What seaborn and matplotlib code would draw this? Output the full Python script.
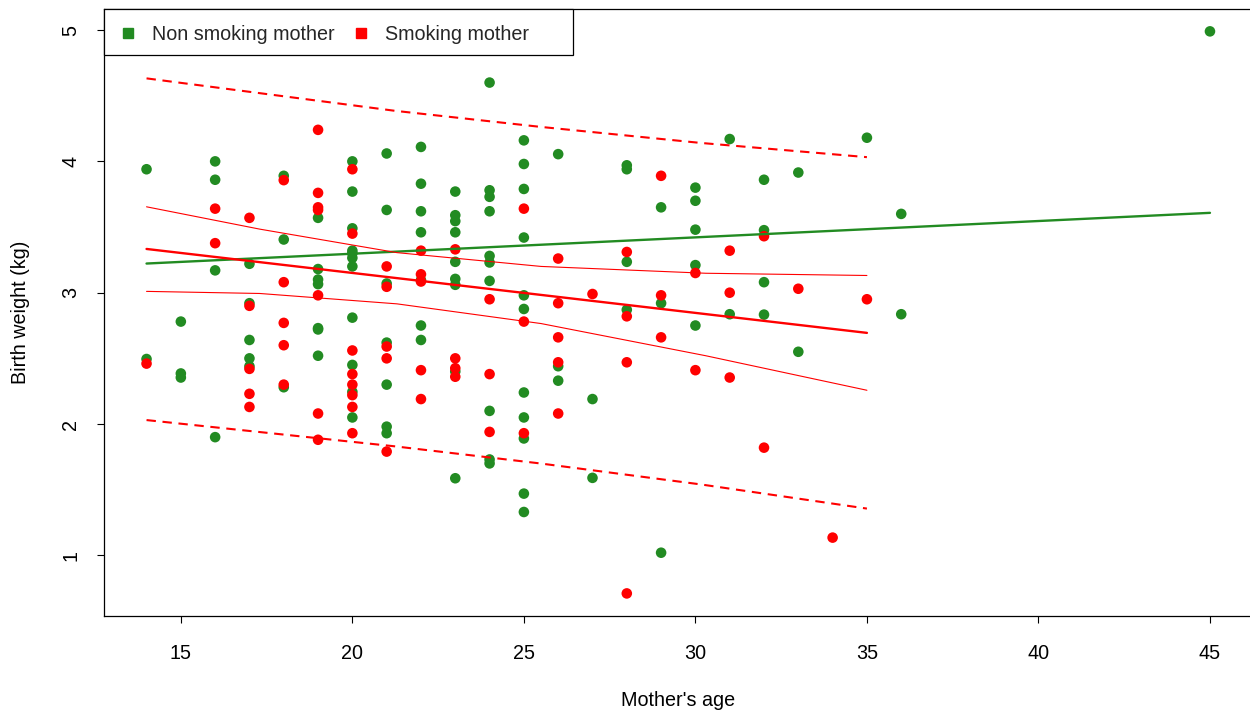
import numpy as np
import pandas as pd
import matplotlib
matplotlib.use("Agg")
import matplotlib.pyplot as plt
import seaborn as sns
from matplotlib.lines import Line2D
from matplotlib.patches import Rectangle

# ---------------- data ----------------
nonsmoke_age = ([14] * 2 + [15] * 3 + [16] * 4 + [17] * 5 + [18] * 3 + [19] * 7 + [20] * 11 +
                [21] * 7 + [22] * 7 + [23] * 9 + [24] * 10 + [25] * 11 + [26] * 3 + [27] * 2 +
                [28] * 4 + [29] * 3 + [30] * 5 + [31] * 2 + [32] * 4 + [33] * 2 + [35] * 1 +
                [36] * 2 + [45] * 1)
nonsmoke_bwt = [3.94, 2.495,
                2.78, 2.385, 2.354,
                4.00, 3.86, 3.17, 1.90,
                3.22, 2.92, 2.64, 2.50, 2.44,
                3.89, 3.405, 2.28,
                3.57, 3.18, 3.10, 3.065, 2.73, 2.72, 2.52,
                4.00, 3.77, 3.49, 3.32, 3.30, 3.265, 3.20, 2.81, 2.45, 2.245, 2.05,
                4.06, 3.63, 3.07, 2.62, 2.30, 1.98, 1.93,
                4.11, 3.83, 3.62, 3.46, 3.095, 2.75, 2.64,
                3.77, 3.59, 3.545, 3.46, 3.235, 3.105, 3.06, 2.40, 1.587,
                4.60, 3.78, 3.73, 3.62, 3.28, 3.23, 3.09, 2.10, 1.73, 1.70,
                4.16, 3.98, 3.79, 3.42, 2.98, 2.876, 2.24, 2.05, 1.89, 1.47, 1.33,
                4.055, 2.44, 2.33,
                2.19, 1.59,
                3.97, 3.94, 3.235, 2.87,
                3.65, 2.92, 1.02,
                3.80, 3.70, 3.48, 3.21, 2.75,
                4.17, 2.836,
                3.86, 3.476, 3.08, 2.833,
                3.915, 2.55,
                4.18,
                3.60, 2.836,
                4.99]

smoke_age = ([14] * 1 + [16] * 2 + [17] * 5 + [18] * 5 + [19] * 7 + [20] * 8 + [21] * 5 +
             [22] * 5 + [23] * 4 + [24] * 3 + [25] * 3 + [26] * 5 + [27] * 1 + [28] * 4 +
             [29] * 3 + [30] * 2 + [31] * 3 + [32] * 2 + [33] * 1 + [34] * 1 + [35] * 1)
smoke_bwt = [2.46,
             3.64, 3.377,
             3.57, 2.90, 2.42, 2.23, 2.13,
             3.857, 3.08, 2.77, 2.60, 2.30,
             4.24, 3.76, 3.65, 3.63, 2.98, 2.08, 1.88,
             3.94, 3.45, 2.56, 2.38, 2.30, 2.22, 2.13, 1.93,
             3.20, 3.045, 2.59, 2.50, 1.79,
             3.32, 3.14, 3.085, 2.41, 2.19,
             3.33, 2.50, 2.425, 2.36,
             2.95, 2.38, 1.94,
             3.64, 2.78, 1.93,
             3.26, 2.92, 2.66, 2.47, 2.08,
             2.99,
             3.31, 2.82, 2.47, 0.71,
             3.89, 2.98, 2.66,
             3.15, 2.41,
             3.32, 3.00, 2.354,
             3.43, 1.82,
             3.03,
             1.135,
             2.95]

# fitted lines (values read at the ends of each line)
fit_ns_age = [14, 45]
fit_ns_bwt = [3.222, 3.608]
fit_s_age = [14, 35]
fit_s_bwt = [3.333, 2.694]

# confidence band for smoking mothers
ci_age = [14, 17.3, 21.3, 25.5, 30.3, 35]
ci_upper = [3.654, 3.484, 3.305, 3.200, 3.148, 3.131]
ci_lower = [3.010, 2.994, 2.915, 2.765, 2.520, 2.257]

# prediction band for smoking mothers
pi_age = [14, 21.24, 25.47, 30.13, 35]
pi_upper = [4.632, 4.385, 4.263, 4.141, 4.032]
pi_lower = [2.030, 1.830, 1.700, 1.541, 1.356]

group_labels = ["Non smoking mother", "Smoking mother"]
x_ticks = [15, 20, 25, 30, 35, 40, 45]
y_ticks = [1, 2, 3, 4, 5]

GREEN = "#228B22"
RED = "#FF0000"

df = pd.DataFrame({
    "age": nonsmoke_age + smoke_age,
    "bwt": nonsmoke_bwt + smoke_bwt,
    "group": [group_labels[0]] * len(nonsmoke_age) + [group_labels[1]] * len(smoke_age),
})

# ---------------- figure ----------------
sns.set_style("white")
plt.rcParams["font.family"] = ["Liberation Sans", "DejaVu Sans"]
FS = 14.2

fig = plt.figure(figsize=(12.5, 7.11), dpi=100)
ax = fig.add_axes([0.0832, 0.1336, 0.9188, 0.8537])

sns.scatterplot(data=df, x="age", y="bwt", hue="group",
                palette={group_labels[0]: GREEN, group_labels[1]: RED},
                s=58, edgecolor="none", linewidth=0, legend=False, ax=ax, zorder=3)

dash = (0, (4.5, 3.2))
sns.lineplot(x=fit_ns_age, y=fit_ns_bwt, color=GREEN, lw=1.7, ax=ax, zorder=4)
sns.lineplot(x=fit_s_age, y=fit_s_bwt, color=RED, lw=1.7, ax=ax, zorder=4)
ax.plot(ci_age, ci_upper, color=RED, lw=0.8, zorder=4)
ax.plot(ci_age, ci_lower, color=RED, lw=0.8, zorder=4)
ax.plot(pi_age, pi_upper, color=RED, lw=1.5, ls=dash, zorder=4)
ax.plot(pi_age, pi_lower, color=RED, lw=1.5, ls=dash, zorder=4)

# axes
ax.set_xlim(12.76, 46.24)
ax.set_ylim(0.538, 5.16)
ax.set_xticks(x_ticks)
ax.set_yticks(y_ticks)
ax.set_xticklabels([str(v) for v in x_ticks])
ax.set_yticklabels([str(v) for v in y_ticks])
ax.tick_params(axis="both", which="both", direction="out", length=5, width=0.8,
               color="black", labelsize=FS, labelcolor="black",
               bottom=True, left=True, top=False, right=False)
ax.tick_params(axis="x", pad=15.5)
ax.tick_params(axis="y", pad=12, labelrotation=90)
for lbl in ax.get_yticklabels():
    lbl.set_va("center")
for sp in ax.spines.values():
    sp.set_visible(True)
    sp.set_color("black")
    sp.set_linewidth(0.9)

ax.set_xlabel("Mother's age", fontsize=FS, color="black")
ax.set_ylabel("Birth weight (kg)", fontsize=FS, color="black")
ax.xaxis.set_label_coords(0.5, -0.124)
ax.yaxis.set_label_coords(-0.064, 0.5)

# legend
ax.add_patch(Rectangle((0.0, 0.9242), 0.4084, 0.0758, transform=ax.transAxes,
                       facecolor="white", edgecolor="black", lw=0.9, zorder=5, clip_on=False))
handles = [Line2D([0], [0], marker="s", ls="none", color=GREEN, markersize=7.5),
           Line2D([0], [0], marker="s", ls="none", color=RED, markersize=7.5)]
leg = ax.legend(handles, group_labels, loc="upper left", bbox_to_anchor=(0, 1.0),
                borderaxespad=0, ncol=2, frameon=False, fontsize=FS,
                handlelength=0.8, handletextpad=0.82, columnspacing=0.91, borderpad=0.82)
leg.set_zorder(6)

fig.savefig("out.png", dpi=100)
